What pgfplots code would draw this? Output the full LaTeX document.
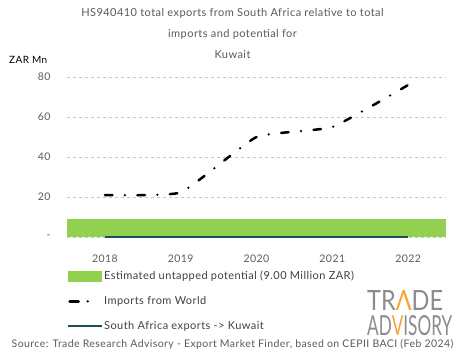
\documentclass[border=0pt]{standalone}
\usepackage{pgfplots}
\pgfplotsset{compat=1.18}
\usepackage{graphicx}
\usepackage{fontspec}
\setmainfont{Lato}[LetterSpace=4]
\newfontfamily\logofont{Lato}
\definecolor{tgray}{HTML}{595959}
\definecolor{lgray}{HTML}{404040}
\definecolor{tgreen}{HTML}{92D050}
\definecolor{saline}{HTML}{1B4D5A}
\definecolor{logogray}{HTML}{8C8C8C}
\definecolor{logoorange}{HTML}{F4A533}
\begin{document}
\begin{tikzpicture}
\useasboundingbox (0pt,0pt) rectangle (465pt,-359pt);
\node[text=tgray, font=\fontsize{11}{13}\selectfont] at (232.5pt,-13pt) {HS940410 total exports from South Africa relative to total};
\node[text=tgray, font=\fontsize{11}{13}\selectfont] at (232.5pt,-34pt) {imports and potential for};
\node[text=tgray, font=\fontsize{11}{13}\selectfont] at (232.5pt,-55pt) {Kuwait};
\node[text=black, anchor=west, inner sep=0pt, font=\fontsize{10}{12}\selectfont] at (9pt,-60pt) {ZAR Mn};
\begin{axis}[
  at={(67pt,-237pt)}, anchor=south west,
  scale only axis, width=379pt, height=160pt,
  xmin=-0.5, xmax=4.5, ymin=0, ymax=80,
  axis line style={draw=none},
  major tick length=0pt,
  ymajorgrids, grid style={dashed, gray!45, line width=0.5pt},
  ytick={0,20,40,60,80}, yticklabels={-,20,40,60,80},
  xtick={0,1,2,3,4}, xticklabels={2018,2019,2020,2021,2022},
  ticklabel style={text=tgray, font=\fontsize{10.5}{12}\selectfont},
  yticklabel style={xshift=-13pt},
  xticklabel style={yshift=-14pt},
  clip=false,
  legend style={at={(0,-0.205)}, anchor=north west, draw=none, fill=none,
    inner sep=0pt, row sep=13.5pt, font=\fontsize{11}{12.5}\selectfont, text=lgray,
    nodes={inner sep=1pt}},
  legend cell align=left,
]
\addplot[fill=tgreen, draw=none,
  legend image code/.code={\fill[tgreen] (0pt,-5.5pt) rectangle (34pt,5.5pt);}]
  coordinates {(-0.5,0) (4.5,0) (4.5,9) (-0.5,9)} -- cycle;
\addlegendentry{Estimated untapped potential (9.00 Million ZAR)}
\addplot[black, line width=2.5pt, line cap=round, smooth, tension=0.25,
  dash pattern=on 7.5pt off 12.5pt on 0pt off 12.5pt,
  legend image code/.code={\draw[line width=2.5pt, line cap=round, dash pattern=on 9pt off 9pt on 0pt off 30pt] (1.5pt,0pt) -- (33pt,0pt);}]
  coordinates {(0,21) (1,22.3) (2,50) (3,55) (4,76)};
\addlegendentry{Imports from World}
\addplot[saline, line width=2pt,
  legend image code/.code={\draw[saline, line width=2pt] (0pt,0pt) -- (34pt,0pt);}]
  coordinates {(0,0) (1,0) (2,0) (3,0) (4,0)};
\addlegendentry{South Africa exports -> Kuwait}
\end{axis}
\node[anchor=north west, inner sep=0pt, text=logogray] at (367pt,-290pt) {\resizebox{76pt}{20pt}{\logofont TR{\color{logoorange}Λ}DE}};
\node[anchor=north west, inner sep=0pt, text=logogray] at (367pt,-315pt) {\resizebox{85pt}{20pt}{\logofont AD{\color{logoorange}V}ISORY}};
\node[text=tgray, font=\fontsize{10.5}{12}\selectfont] at (232.5pt,-344pt) {Source: Trade Research Advisory - Export Market Finder, based on CEPII BACI (Feb 2024)};
\end{tikzpicture}
\end{document}
